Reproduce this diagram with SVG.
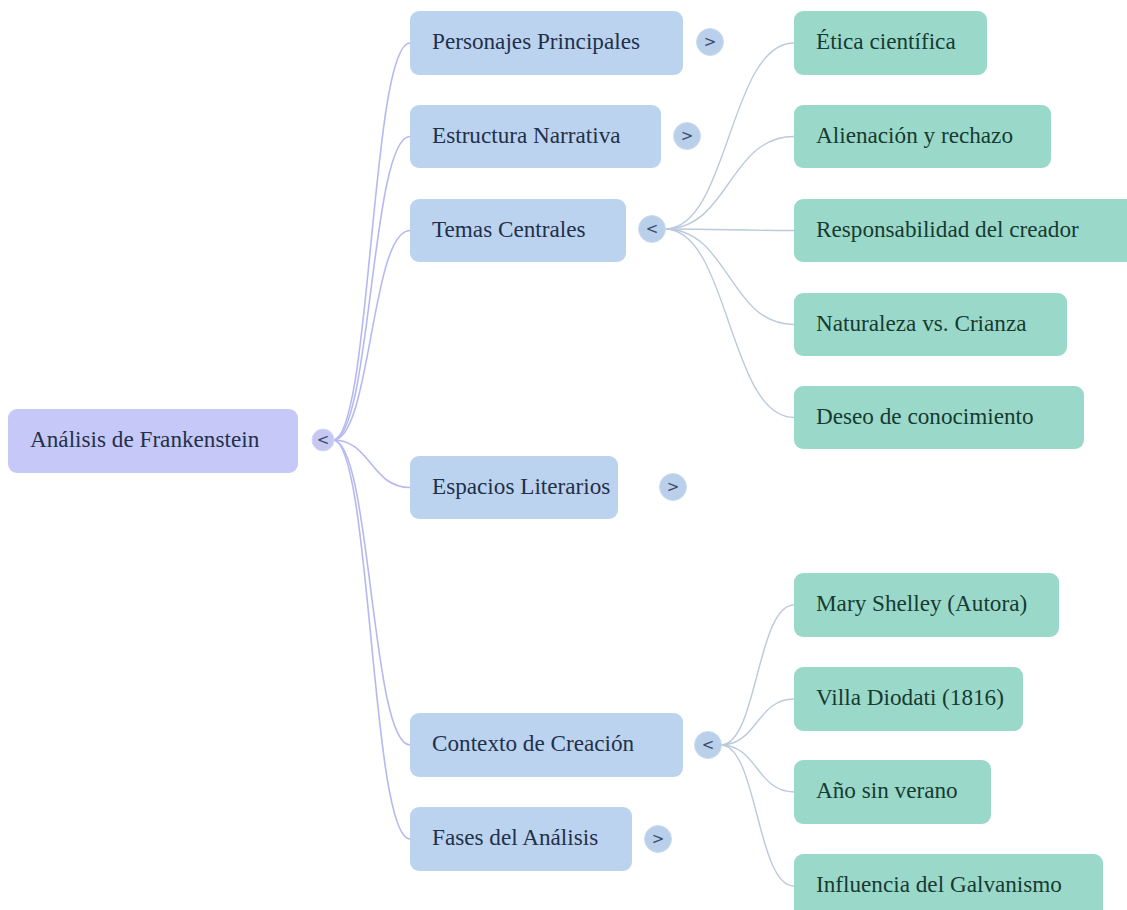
<svg xmlns="http://www.w3.org/2000/svg" width="1127" height="910" viewBox="0 0 1127 910">
<style>
text{font-family:"Liberation Serif","Times New Roman",serif;font-size:23.2px}
.root rect{fill:#c6c8f7}
.l1 rect{fill:#bcd3ef}
.l2 rect{fill:#9ad9c9}
.root text,.l1 text{fill:#22304a}
.l2 text{fill:#173a31}
.tg circle{stroke-width:1}
.tg text{font-family:"DejaVu Sans",sans-serif;font-size:15px;text-anchor:middle;fill:#3a4a6a}
.rc circle{fill:#c6c8f2;stroke:#d6d8f8}
.lc circle{fill:#b9cfea;stroke:#cbdcf0}
.c0 path{fill:none;stroke:#b6b9ef;stroke-width:1.6}
.c1 path{fill:none;stroke:#bccadc;stroke-width:1.4}
</style>
<g id="connectors">
 <g class="c0">
  <path d="M333 440 C371 440 371 43 410 43"/>
  <path d="M333 440 C371 440 371 136.5 410 136.5"/>
  <path d="M333 440 C371 440 371 230.5 410 230.5"/>
  <path d="M333 440 C371 440 371 487.5 410 487.5"/>
  <path d="M333 440 C371 440 371 745 410 745"/>
  <path d="M333 440 C371 440 371 839 410 839"/>
 </g>
 <g class="c1">
  <path d="M665 229 C729 229 729 43 794 43"/>
  <path d="M665 229 C729 229 729 136.5 794 136.5"/>
  <path d="M665 229 C729 229 729 230.5 794 230.5"/>
  <path d="M665 229 C729 229 729 324.5 794 324.5"/>
  <path d="M665 229 C729 229 729 417.5 794 417.5"/>
  <path d="M721 745 C757 745 757 605 794 605"/>
  <path d="M721 745 C757 745 757 699 794 699"/>
  <path d="M721 745 C757 745 757 792 794 792"/>
  <path d="M721 745 C757 745 757 886 794 886"/>
 </g>
</g>
<g id="root" class="root"><rect x="8" y="409" width="290" height="64" rx="9"/><text x="30" y="447">Análisis de Frankenstein</text></g>
<g id="root-toggle" class="tg rc"><circle cx="323" cy="440" r="11"/><text x="323" y="445">&lt;</text></g>

<g id="n-personajes" class="l1"><rect x="410" y="11" width="273" height="64" rx="9"/><text x="432" y="49">Personajes Principales</text></g>
<g id="t-personajes" class="tg lc"><circle cx="710" cy="42" r="13.5"/><text x="710" y="47">&gt;</text></g>
<g id="n-estructura" class="l1"><rect x="410" y="105" width="251" height="63" rx="9"/><text x="432" y="143">Estructura Narrativa</text></g>
<g id="t-estructura" class="tg lc"><circle cx="687" cy="136" r="13.5"/><text x="687" y="141">&gt;</text></g>
<g id="n-temas" class="l1"><rect x="410" y="199" width="216" height="63" rx="9"/><text x="432" y="237">Temas Centrales</text></g>
<g id="t-temas" class="tg lc"><circle cx="652" cy="229" r="13.5"/><text x="652" y="234">&lt;</text></g>
<g id="n-espacios" class="l1"><rect x="410" y="456" width="208" height="63" rx="9"/><text x="432" y="494">Espacios Literarios</text></g>
<g id="t-espacios" class="tg lc"><circle cx="673" cy="487" r="13.5"/><text x="673" y="492">&gt;</text></g>
<g id="n-contexto" class="l1"><rect x="410" y="713" width="273" height="64" rx="9"/><text x="432" y="751">Contexto de Creación</text></g>
<g id="t-contexto" class="tg lc"><circle cx="708" cy="745" r="13.5"/><text x="708" y="750">&lt;</text></g>
<g id="n-fases" class="l1"><rect x="410" y="807" width="222" height="64" rx="9"/><text x="432" y="845">Fases del Análisis</text></g>
<g id="t-fases" class="tg lc"><circle cx="658" cy="839" r="13.5"/><text x="658" y="844">&gt;</text></g>

<g id="n-etica" class="l2"><rect x="794" y="11" width="193" height="64" rx="9"/><text x="816" y="49">Ética científica</text></g>
<g id="n-alienacion" class="l2"><rect x="794" y="105" width="257" height="63" rx="9"/><text x="816" y="143">Alienación y rechazo</text></g>
<g id="n-responsabilidad" class="l2"><rect x="794" y="199" width="345" height="63" rx="9"/><text x="816" y="237">Responsabilidad del creador</text></g>
<g id="n-naturaleza" class="l2"><rect x="794" y="293" width="273" height="63" rx="9"/><text x="816" y="331">Naturaleza vs. Crianza</text></g>
<g id="n-deseo" class="l2"><rect x="794" y="386" width="290" height="63" rx="9"/><text x="816" y="424">Deseo de conocimiento</text></g>
<g id="n-mary" class="l2"><rect x="794" y="573" width="265" height="64" rx="9"/><text x="816" y="611">Mary Shelley (Autora)</text></g>
<g id="n-villa" class="l2"><rect x="794" y="667" width="229" height="64" rx="9"/><text x="816" y="705">Villa Diodati (1816)</text></g>
<g id="n-ano" class="l2"><rect x="794" y="760" width="197" height="64" rx="9"/><text x="816" y="798">Año sin verano</text></g>
<g id="n-influencia" class="l2"><rect x="794" y="854" width="309" height="64" rx="9"/><text x="816" y="892">Influencia del Galvanismo</text></g>
</svg>
